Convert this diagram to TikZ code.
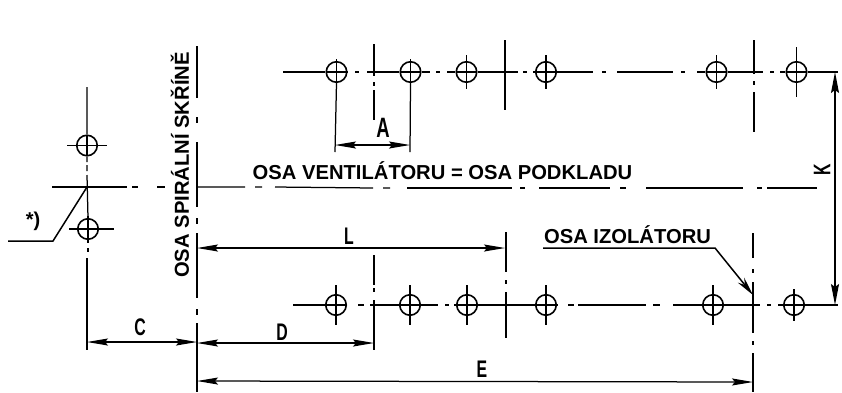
\documentclass[tikz,border=0pt]{standalone}
\usepackage{fontspec}
\usepackage{graphicx}
\setmainfont{Liberation Sans}
\usetikzlibrary{arrows.meta,calc}
\tikzset{
  ln/.style={line width=1.25pt,black},
  thin ln/.style={line width=1.1pt,black},
  lbl/.style={font=\bfseries\fontsize{20.2}{22}\selectfont,inner sep=0pt},
  dim letter/.style={font=\bfseries\fontsize{24}{26}\selectfont,inner sep=0pt},
  hole/.style={circle,draw,line width=1.6pt,minimum size=20.5pt,inner sep=0pt},
  dimline/.style={ln,{Stealth[length=21pt,width=7pt,inset=3pt]}-{Stealth[length=21pt,width=7pt,inset=3pt]}},
  onearrow/.style={ln,-{Stealth[length=19pt,width=8pt]}}
}
\newcommand{\hl}[5]{% name x y half-width-h half-height-v
  \node[hole] (#1) at (#2,#3) {};
  \draw[thin ln] (#2-#4,#3) -- (#2+#4,#3);
  \draw[thin ln] (#2,#3-#5) -- (#2,#3+#5);
}
\newcommand{\dl}[1]{\scalebox{.66}[1]{#1}}
\begin{document}
\begin{tikzpicture}[x=1pt,y=-1pt]
\useasboundingbox (0,0) rectangle (842,392);
% holes
\hl{la}{87}{145.5}{20}{10}
\hl{lb}{88}{229}{19}{13}
\hl{ta}{336.5}{72}{10}{13}
\hl{tb}{410.5}{72}{10}{13}
\hl{tc}{466.5}{72}{10}{17}
\hl{td}{546}{72}{10}{17}
\hl{te}{716.5}{72}{10}{17}
\hl{tf}{796.5}{72}{10}{25}
\hl{ba}{336}{305}{10}{20}
\hl{bb}{410}{305}{10}{20}
\hl{bc}{467}{305}{10}{20}
\hl{bd}{546}{305}{10}{20}
\hl{be}{713}{305}{10}{20}
\hl{bf}{794}{305}{10}{16}
\draw[ln] (lb.east) -- (114,229);
% top row axis
\draw[ln] (283,72) -- (ta.west) (ta.east) -- (346,72);
\draw[ln] (355,72) -- (359,72) (367,72) -- (tb.west) (tb.east) -- (430,72);
\draw[ln] (436,72) -- (440,72) (447,72) -- (tc.west);
\draw[ln] (tc.east) -- (518,72) (523,72) -- (527,72) (533,72) -- (td.west);
\draw[ln] (td.east) -- (593,72) (602,72) -- (606,72) (617,72) -- (673,72);
\draw[ln] (681,72) -- (685,72) (697,72) -- (te.west) (te.east) -- (763,72);
\draw[ln] (770,72) -- (774,72) (780,72) -- (tf.west) (tf.east) -- (838,72);
% bottom row axis
\draw[ln] (293,305) -- (ba.west) (ba.east) -- (346,305) (358,305) -- (364,305) (370,305) -- (bb.west);
\draw[ln] (bb.east) -- (438,305) (445,305) -- (449,305) (454,305) -- (bc.west) (bc.east) -- (bd.west);
\draw[ln] (bd.east) -- (557,305) (568,305) -- (574,305) (578,305) -- (646,305) (653,305) -- (660,305) (673,305) -- (be.west);
\draw[ln] (be.east) -- (760,305) (767,305) -- (771,305) (778,305) -- (bf.west) (bf.east) -- (838,305);
% centre axis
\draw[ln] (52,187) -- (127,187) (132,187) -- (138,187) (157,187) -- (165,187);
\draw[ln] (197,187) -- (245,187) (255,187) -- (262,187) (275,187) -- (373,188) (383,188) -- (390,188);
\draw[ln] (407,188) -- (512,188) (520,188) -- (525,188) (539,188) -- (610,188) (620,188) -- (626,188);
\draw[ln] (646,188) -- (743,188) (757,188) -- (762,188) (767,188) -- (817,188);
% left vertical axis
\draw[ln] (87,87) -- (la.north) (la.south) -- (87,162) (87,165) -- (87,171) (87,175) -- (lb.north);
\draw[ln] (lb.south) -- (88,243) (88,248) -- (88,252);
\draw[ln] (87,258) -- (87,350);
% spiral case axis
\draw[ln] (197,46) -- (197,98) (197,117) -- (197,123) (197,142) -- (197,207) (197,218) -- (197,224) (197,233) -- (197,298) (197,309) -- (197,315) (197,323) -- (197,392);
% section axes
\draw[ln] (374,44) -- (374,76) (374,82) -- (374,86) (374,90) -- (374,120);
\draw[ln] (374,255) -- (374,285) (374,288) -- (374,292) (374,300) -- (374,350);
\draw[ln] (505,40) -- (505,110) (506,232) -- (506,272) (506,280) -- (506,284) (506,292) -- (506,338);
\draw[ln] (754,40) -- (754,74) (754,81) -- (754,85) (754,92) -- (754,132);
\draw[ln] (753,233) -- (753,258) (753,269) -- (753,273) (753,282) -- (753,333) (753,341) -- (753,345) (753,353) -- (753,392);
% extension and dimension nodes
\coordinate (Aa) at (335,145); \coordinate (Ab) at (410,145);
\coordinate (La) at (197,248); \coordinate (Lb) at (505,248);
\coordinate (Ca) at (87,342); \coordinate (Cb) at (197,342);
\coordinate (Da) at (197,343); \coordinate (Db) at (374,343);
\coordinate (Ea) at (197,381); \coordinate (Eb) at (753,382);
\coordinate (Ka) at (835,72); \coordinate (Kb) at (835,305);
\draw[ln] (ta.south) -- (335,152);
\draw[ln] (tb.south) -- (410,152);
\draw[dimline] (Aa) -- (Ab);
\draw[dimline] (La) -- (Lb);
\draw[dimline] (Ca) -- (Cb);
\draw[dimline] (Da) -- (Db);
\draw[dimline] (Ea) -- (Eb);
\draw[ln,{Stealth[length=21pt,width=8pt,inset=3pt]}-{Stealth[length=21pt,width=8pt,inset=3pt]}] (Ka) -- (Kb);
% leaders
\coordinate (sa) at (8,241); \coordinate (sb) at (53,241); \coordinate (sc) at (87,187);
\draw[line width=1.5pt] (sa) -- (sb) -- (sc);
\coordinate (ia) at (543,248); \coordinate (ib) at (715,248); \coordinate (ic) at (753,295);
\draw[onearrow,line width=1.5pt] (ia) -- (ib) -- (ic);
% labels
\node[lbl,anchor=center] (t1) at (442.5,171) {OSA VENTILÁTORU = OSA PODKLADU};
\node[lbl,anchor=center] (t2) at (627.5,235) {OSA IZOLÁTORU};
\node[lbl,rotate=90] (t3) at (180,165) {OSA SPIRÁLNÍ SKŘÍNĚ};
\node[inner sep=0pt,font=\bfseries\fontsize{20}{22}\selectfont] (t4) at (33,221) {*)};
\node[dim letter,font=\bfseries\fontsize{28}{30}\selectfont] (A) at (383,128) {\dl{A}};
\node[dim letter] (L) at (349,236) {\dl{L}};
\node[dim letter] (C) at (140,327) {\dl{C}};
\node[dim letter] (D) at (282,332) {\dl{D}};
\node[dim letter] (E) at (482,369) {\dl{E}};
\node[dim letter,rotate=90] (K) at (822,170) {\dl{K}};
\end{tikzpicture}
\end{document}
